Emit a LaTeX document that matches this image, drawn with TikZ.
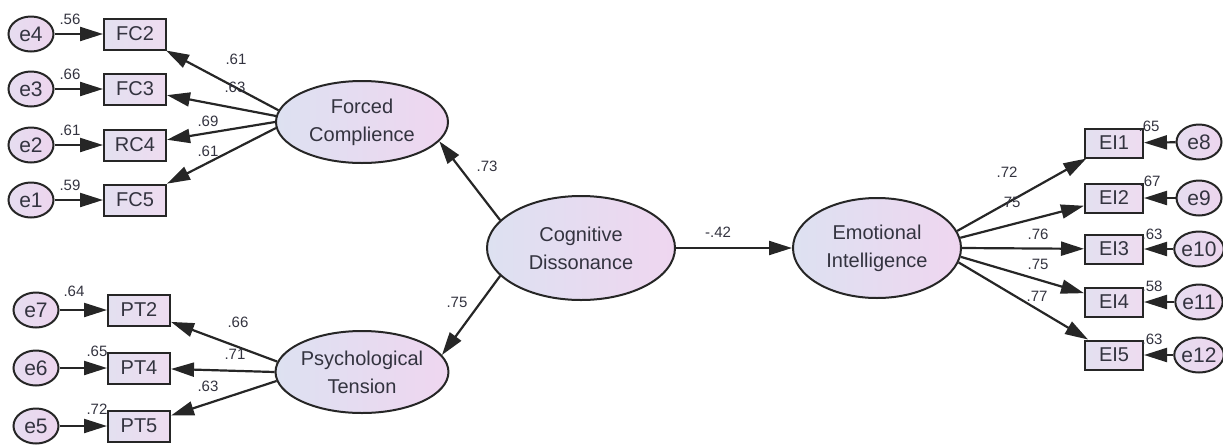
\documentclass[tikz,border=0pt]{standalone}
\usepackage{fontspec}
\setmainfont{Liberation Sans}
\usetikzlibrary{shapes.geometric,arrows.meta}
\definecolor{ink}{HTML}{262626}
\definecolor{txt}{HTML}{33333F}
\definecolor{latL}{HTML}{DDE1F1}
\definecolor{latR}{HTML}{EFD6F0}
\definecolor{boxL}{HTML}{E3E0F0}
\definecolor{boxR}{HTML}{EEDCF0}
\definecolor{errL}{HTML}{E6DDF0}
\definecolor{errR}{HTML}{EDD5EE}
\tikzset{
  latent/.style={ellipse, draw=ink, line width=2pt, left color=latL, right color=latR,
    inner sep=0pt, minimum width=172pt, minimum height=82pt, align=center, text=txt,
    font=\fontsize{20}{28}\selectfont},
  obsbox/.style={rectangle, draw=ink, line width=2pt, left color=boxL, right color=boxR,
    inner sep=0pt, minimum width=62pt, minimum height=31pt, text=txt,
    font=\fontsize{20}{24}\selectfont},
  errc/.style={ellipse, draw=ink, line width=2pt, left color=errL, right color=errR,
    inner sep=0pt, minimum width=45pt, minimum height=35pt, text=txt,
    font=\fontsize{21}{24}\selectfont},
  est/.style={inner sep=0pt, text=txt, font=\fontsize{15}{17}\selectfont},
  conn/.style={draw=ink, line width=2.2pt, -{Triangle[length=23pt,width=14pt]}}
}
\begin{document}
\begin{tikzpicture}[x=1pt,y=-1pt]
\useasboundingbox (0,0) rectangle (1223,445);

% latent variables
\node[latent] (FC) at (362,122) {Forced\\Complience};
\node[latent] (PT) at (362,372) {Psychological\\Tension};
\node[latent, minimum width=188pt, minimum height=104pt] (CD) at (581,248) {Cognitive\\Dissonance};
\node[latent, minimum width=168pt, minimum height=100pt] (EI) at (877,248) {Emotional\\Intelligence};

% indicators of Forced Complience
\node[obsbox] (FC2) at (135,34) {FC2};
\node[obsbox] (FC3) at (135,89) {FC3};
\node[obsbox] (RC4) at (135,145) {RC4};
\node[obsbox] (FC5) at (135,200) {FC5};
\node[errc] (e4) at (31,34) {e4};
\node[errc] (e3) at (31,89) {e3};
\node[errc] (e2) at (31,145) {e2};
\node[errc] (e1) at (31,200) {e1};

% indicators of Psychological Tension
\node[obsbox] (PT2) at (139,310) {PT2};
\node[obsbox] (PT4) at (139,368) {PT4};
\node[obsbox] (PT5) at (139,426) {PT5};
\node[errc] (e7) at (36,310) {e7};
\node[errc] (e6) at (36,368) {e6};
\node[errc] (e5) at (36,426) {e5};

% indicators of Emotional Intelligence
\node[obsbox, minimum width=58pt, minimum height=29pt] (EI1) at (1114,143) {EI1};
\node[obsbox, minimum width=58pt, minimum height=29pt] (EI2) at (1114,198) {EI2};
\node[obsbox, minimum width=58pt, minimum height=29pt] (EI3) at (1114,249) {EI3};
\node[obsbox, minimum width=58pt, minimum height=29pt] (EI4) at (1114,302) {EI4};
\node[obsbox, minimum width=58pt, minimum height=29pt] (EI5) at (1114,355) {EI5};
\node[errc] (e8) at (1199,142) {e8};
\node[errc] (e9) at (1199,198) {e9};
\node[errc] (e10) at (1199,249) {e10};
\node[errc] (e11) at (1199,302) {e11};
\node[errc] (e12) at (1199,355) {e12};

% error terms
\draw[conn] (e4) -- (FC2);
\draw[conn] (e3) -- (FC3);
\draw[conn] (e2) -- (RC4);
\draw[conn] (e1) -- (FC5);
\draw[conn] (e7) -- (PT2);
\draw[conn] (e6) -- (PT4);
\draw[conn] (e5) -- (PT5);
\draw[conn] (e8) -- (EI1);
\draw[conn] (e9) -- (EI2);
\draw[conn] (e10) -- (EI3);
\draw[conn] (e11) -- (EI4);
\draw[conn] (e12) -- (EI5);

% loadings
\draw[conn] (FC.172) -- (FC2);
\draw[conn] (FC.176) -- (FC3);
\draw[conn] (FC.180) -- (RC4);
\draw[conn] (FC.184) -- (FC5);
\draw[conn] (PT.173) -- (PT2);
\draw[conn] (PT.180) -- (PT4);
\draw[conn] (PT.186) -- (PT5);
\draw[conn] (EI.12) -- (EI1);
\draw[conn] (EI.7) -- (EI2);
\draw[conn] (EI.0) -- (EI3);
\draw[conn] (EI.-6) -- (EI4);
\draw[conn] (EI.-10) -- (EI5);

% structural paths
\draw[conn] (CD.161) -- (FC.-14);
\draw[conn] (CD.199) -- (PT.12);
\draw[conn] (CD) -- (EI);

% estimates
\node[est] (r4) at (70,19) {.56};
\node[est] (r3) at (70,74) {.66};
\node[est] (r2) at (70,130) {.61};
\node[est] (r1) at (70,185) {.59};
\node[est] (lFC2) at (236,59) {.61};
\node[est] (lFC3) at (235,87) {.63};
\node[est] (lRC4) at (208,121) {.69};
\node[est] (lFC5) at (208,151) {.61};

\node[est] (r7) at (74,291) {.64};
\node[est] (r6) at (97,351) {.65};
\node[est] (r5) at (97,409) {.72};
\node[est] (lPT2) at (238,322) {.66};
\node[est] (lPT4) at (235,354) {.71};
\node[est] (lPT5) at (208,386) {.63};

\node[est] (gFC) at (487,166) {.73};
\node[est] (gPT) at (457,302) {.75};
\node[est] (gEI) at (718,232) {-.42};

\node[est] (lEI1) at (1007,172) {.72};
\node[est] (lEI2) at (1010,202) {.75};
\node[est] (lEI3) at (1038,234) {.76};
\node[est] (lEI4) at (1038,264) {.75};
\node[est] (lEI5) at (1037,296) {.77};
\node[est] (r8) at (1149,126) {.65};
\node[est] (r9) at (1150,181) {.67};
\node[est] (r10) at (1152,234) {.63};
\node[est] (r11) at (1152,286) {.58};
\node[est] (r12) at (1152,339) {.63};
\end{tikzpicture}
\end{document}
